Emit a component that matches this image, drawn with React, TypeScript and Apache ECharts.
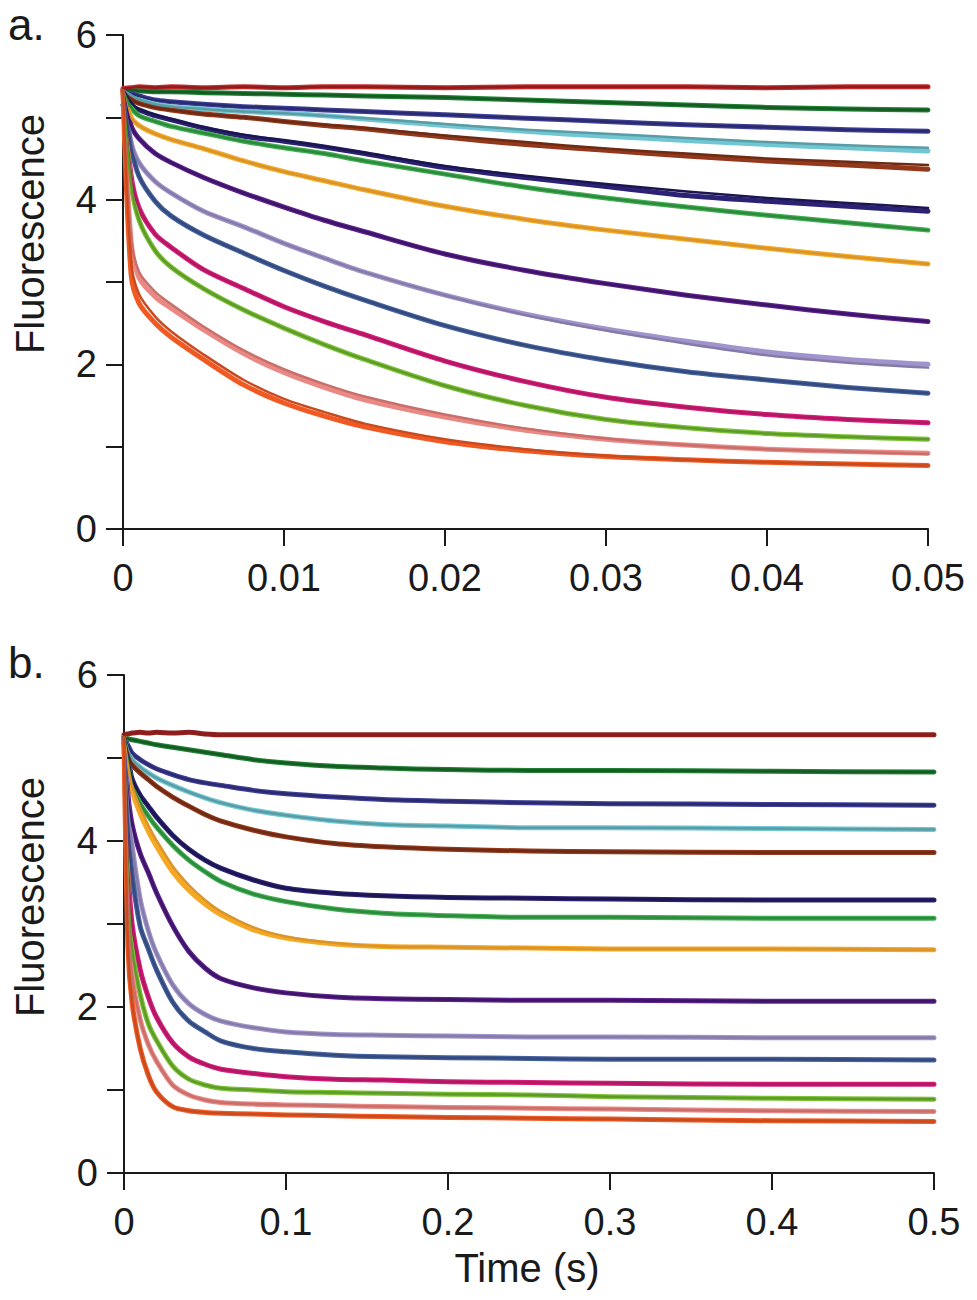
import React, { useEffect, useRef } from "react";
import * as echarts from "echarts";

// ---------- data: panel a (0 - 0.05 s) ----------
const TIME_A = [0, 0.0005, 0.001, 0.002, 0.003, 0.005, 0.0075, 0.01, 0.0125, 0.015, 0.02, 0.025, 0.03, 0.035, 0.04, 0.045, 0.05];

const A_RED = [5.35, 5.36, 5.37, 5.36, 5.37, 5.36, 5.37, 5.36, 5.37, 5.37, 5.36, 5.37, 5.37, 5.37, 5.36, 5.37, 5.37];
const A_GREEN = [5.33, 5.33, 5.32, 5.31, 5.31, 5.30, 5.29, 5.28, 5.27, 5.26, 5.24, 5.21, 5.18, 5.15, 5.12, 5.10, 5.09];
const A_INDIGO = [5.33, 5.29, 5.26, 5.21, 5.19, 5.16, 5.13, 5.11, 5.09, 5.07, 5.03, 4.99, 4.95, 4.91, 4.88, 4.85, 4.83];
const A_CYAN = [5.33, 5.27, 5.22, 5.16, 5.13, 5.10, 5.07, 5.05, 5.02, 4.98, 4.90, 4.83, 4.77, 4.72, 4.67, 4.63, 4.59];
const A_CYAN_FIT = [5.33, 5.27, 5.22, 5.16, 5.13, 5.10, 5.07, 5.05, 5.02, 4.99, 4.92, 4.85, 4.80, 4.75, 4.70, 4.66, 4.63];
const A_BROWN = [5.33, 5.22, 5.17, 5.12, 5.09, 5.04, 5.00, 4.95, 4.90, 4.86, 4.76, 4.67, 4.60, 4.53, 4.47, 4.42, 4.37];
const A_BROWN_FIT = [5.33, 5.22, 5.17, 5.12, 5.09, 5.04, 5.00, 4.95, 4.91, 4.87, 4.78, 4.70, 4.62, 4.56, 4.50, 4.46, 4.42];
const A_NAVY = [5.15, 5.12, 5.09, 5.02, 4.97, 4.87, 4.77, 4.71, 4.64, 4.56, 4.39, 4.27, 4.16, 4.05, 3.98, 3.92, 3.86];
const A_NAVY_FIT = [5.33, 5.18, 5.10, 5.03, 4.98, 4.88, 4.79, 4.72, 4.65, 4.57, 4.41, 4.29, 4.19, 4.10, 4.02, 3.96, 3.90];
const A_GREEN2 = [5.33, 5.12, 5.02, 4.95, 4.89, 4.81, 4.71, 4.63, 4.56, 4.47, 4.31, 4.15, 4.02, 3.91, 3.81, 3.72, 3.63];
const A_ORANGE = [5.33, 5.00, 4.90, 4.80, 4.73, 4.62, 4.47, 4.34, 4.23, 4.12, 3.92, 3.76, 3.63, 3.52, 3.41, 3.31, 3.22];
const A_PURPLE = [5.33, 4.90, 4.74, 4.56, 4.45, 4.27, 4.08, 3.91, 3.75, 3.61, 3.34, 3.14, 2.98, 2.84, 2.72, 2.61, 2.52];
const A_LAVENDER = [5.33, 4.70, 4.45, 4.22, 4.08, 3.86, 3.67, 3.47, 3.29, 3.12, 2.84, 2.61, 2.43, 2.28, 2.15, 2.06, 2.00];
const A_LAVENDER_FIT = [5.33, 4.70, 4.45, 4.22, 4.08, 3.86, 3.67, 3.47, 3.29, 3.12, 2.84, 2.60, 2.41, 2.25, 2.11, 2.02, 1.96];
const A_BLUE = [5.33, 4.65, 4.28, 3.98, 3.80, 3.57, 3.35, 3.14, 2.95, 2.78, 2.47, 2.23, 2.05, 1.91, 1.81, 1.72, 1.65];
const A_MAGENTA = [5.33, 4.30, 3.90, 3.58, 3.42, 3.15, 2.92, 2.70, 2.52, 2.36, 2.04, 1.79, 1.60, 1.48, 1.39, 1.33, 1.29];
const A_LIME = [5.33, 4.20, 3.75, 3.38, 3.18, 2.92, 2.66, 2.44, 2.24, 2.06, 1.74, 1.50, 1.33, 1.23, 1.16, 1.12, 1.09];
const A_PINK = [5.33, 3.50, 3.05, 2.82, 2.68, 2.42, 2.13, 1.90, 1.72, 1.57, 1.36, 1.20, 1.09, 1.02, 0.97, 0.94, 0.92];
const A_PINK_FIT = [5.33, 3.55, 3.12, 2.88, 2.73, 2.46, 2.17, 1.94, 1.76, 1.61, 1.39, 1.22, 1.10, 1.02, 0.97, 0.94, 0.91];
const A_ORED = [5.33, 3.10, 2.74, 2.50, 2.33, 2.06, 1.75, 1.53, 1.37, 1.24, 1.06, 0.95, 0.88, 0.84, 0.81, 0.79, 0.77];
const A_ORED_FIT = [5.33, 3.25, 2.85, 2.58, 2.40, 2.12, 1.81, 1.58, 1.42, 1.28, 1.09, 0.97, 0.89, 0.84, 0.81, 0.79, 0.77];

// ---------- data: panel b (0 - 0.5 s) ----------
const TIME_B = [0, 0.0025, 0.005, 0.01, 0.015, 0.02, 0.03, 0.04, 0.05, 0.06, 0.08, 0.1, 0.13, 0.16, 0.2, 0.25, 0.3, 0.4, 0.5];

const B_RED = [5.28, 5.29, 5.30, 5.31, 5.30, 5.31, 5.30, 5.31, 5.29, 5.28, 5.28, 5.28, 5.28, 5.28, 5.28, 5.28, 5.28, 5.28, 5.28];
const B_GREEN = [5.25, 5.23, 5.22, 5.20, 5.18, 5.16, 5.13, 5.10, 5.07, 5.04, 4.98, 4.94, 4.90, 4.88, 4.86, 4.85, 4.85, 4.84, 4.83];
const B_INDIGO = [5.25, 5.15, 5.06, 4.98, 4.92, 4.87, 4.80, 4.74, 4.70, 4.67, 4.61, 4.57, 4.53, 4.50, 4.48, 4.46, 4.45, 4.44, 4.43];
const B_CYAN = [5.25, 5.10, 4.98, 4.89, 4.82, 4.76, 4.67, 4.59, 4.52, 4.46, 4.37, 4.31, 4.24, 4.20, 4.18, 4.16, 4.16, 4.15, 4.14];
const B_BROWN = [5.25, 5.05, 4.92, 4.82, 4.74, 4.66, 4.53, 4.42, 4.32, 4.24, 4.13, 4.05, 3.97, 3.93, 3.90, 3.88, 3.87, 3.86, 3.86];
const B_NAVY = [5.25, 5.00, 4.75, 4.55, 4.42, 4.29, 4.07, 3.90, 3.77, 3.67, 3.53, 3.43, 3.37, 3.34, 3.32, 3.31, 3.30, 3.29, 3.29];
const B_GREEN2 = [5.25, 4.95, 4.68, 4.45, 4.30, 4.17, 3.95, 3.77, 3.63, 3.51, 3.36, 3.27, 3.18, 3.13, 3.10, 3.08, 3.08, 3.07, 3.07];
const B_ORANGE = [5.25, 4.86, 4.60, 4.33, 4.12, 3.94, 3.63, 3.41, 3.24, 3.11, 2.93, 2.83, 2.76, 2.73, 2.72, 2.71, 2.70, 2.70, 2.69];
const B_ORANGE_FIT = [5.25, 4.90, 4.66, 4.40, 4.19, 4.01, 3.70, 3.47, 3.29, 3.15, 2.96, 2.85, 2.77, 2.73, 2.72, 2.71, 2.70, 2.70, 2.69];
const B_PURPLE = [5.25, 4.55, 4.20, 3.85, 3.62, 3.38, 2.98, 2.67, 2.47, 2.34, 2.23, 2.17, 2.12, 2.10, 2.09, 2.08, 2.08, 2.07, 2.07];
const B_LAVENDER = [5.25, 4.40, 3.95, 3.30, 2.92, 2.65, 2.27, 2.04, 1.91, 1.83, 1.75, 1.70, 1.67, 1.66, 1.65, 1.64, 1.64, 1.63, 1.63];
const B_BLUE = [5.25, 4.20, 3.60, 2.97, 2.70, 2.45, 2.06, 1.83, 1.70, 1.59, 1.50, 1.46, 1.42, 1.40, 1.39, 1.38, 1.37, 1.37, 1.36];
const B_MAGENTA = [5.25, 3.70, 3.00, 2.45, 2.12, 1.88, 1.57, 1.40, 1.31, 1.25, 1.20, 1.16, 1.13, 1.12, 1.10, 1.09, 1.08, 1.07, 1.07];
const B_LIME = [5.25, 3.50, 2.70, 2.15, 1.80, 1.60, 1.29, 1.13, 1.06, 1.02, 1.00, 0.98, 0.97, 0.96, 0.95, 0.94, 0.92, 0.90, 0.89];
const B_PINK = [5.25, 3.20, 2.38, 1.85, 1.55, 1.35, 1.06, 0.94, 0.88, 0.85, 0.83, 0.82, 0.81, 0.80, 0.79, 0.78, 0.77, 0.75, 0.74];
const B_ORED = [5.25, 2.70, 2.05, 1.50, 1.18, 0.98, 0.80, 0.75, 0.73, 0.72, 0.71, 0.70, 0.69, 0.68, 0.67, 0.66, 0.65, 0.63, 0.62];

// ---------- tick labels ----------
const Y_TICKS = [0, 1, 2, 3, 4, 5, 6];
const X_TICKS_A = ["0", "0.01", "0.02", "0.03", "0.04", "0.05"];
const X_TICKS_B = ["0", "0.1", "0.2", "0.3", "0.4", "0.5"];

// ---------- styles ----------
const DATA_COLORS = ["#c62b2a", "#1f7f33", "#3f3f98", "#70c7d3", "#93381a", "#2b2275", "#40ae50", "#f6a823", "#5c2290", "#a194cc", "#45629f", "#d81b78", "#7bc234", "#ea8884", "#f05a22"];
const FIT_COLORS = ["#8e1c1c", "#155a22", "#2a2a70", "#5a9ca5", "#6e2a14", "#1b1650", "#2d8a3c", "#d9952b", "#3e1466", "#857aa8", "#34497d", "#b01864", "#5e9a2a", "#c86f6b", "#c84a1e"];
const B_DATA_COLORS = ["#8d2420", ...DATA_COLORS.slice(1)];

const A_OBS = [A_RED, A_GREEN, A_INDIGO, A_CYAN, A_BROWN, A_NAVY, A_GREEN2, A_ORANGE, A_PURPLE, A_LAVENDER, A_BLUE, A_MAGENTA, A_LIME, A_PINK, A_ORED];
const A_FIT = [A_RED, A_GREEN, A_INDIGO, A_CYAN_FIT, A_BROWN_FIT, A_NAVY_FIT, A_GREEN2, A_ORANGE, A_PURPLE, A_LAVENDER_FIT, A_BLUE, A_MAGENTA, A_LIME, A_PINK_FIT, A_ORED_FIT];
const B_OBS = [B_RED, B_GREEN, B_INDIGO, B_CYAN, B_BROWN, B_NAVY, B_GREEN2, B_ORANGE, B_PURPLE, B_LAVENDER, B_BLUE, B_MAGENTA, B_LIME, B_PINK, B_ORED];
const B_FIT = [B_RED, B_GREEN, B_INDIGO, B_CYAN, B_BROWN, B_NAVY, B_GREEN2, B_ORANGE_FIT, B_PURPLE, B_LAVENDER, B_BLUE, B_MAGENTA, B_LIME, B_PINK, B_ORED];

const FONT = "Liberation Sans, Arial, Helvetica, sans-serif";
const INK = "#1a1a1a";

function pairs(t: number[], v: number[]) {
  return t.map((x, i) => [x, v[i]]);
}

function lineSeries(idx: number, t: number[], v: number[], color: string, width: number, z: number) {
  return {
    type: "line",
    xAxisIndex: idx,
    yAxisIndex: idx,
    data: pairs(t, v),
    showSymbol: false,
    symbol: "none",
    smooth: 0.3,
    silent: true,
    z,
    lineStyle: { color, width, cap: "round", join: "round" },
  };
}

function yAxis(gridIndex: number) {
  return {
    type: "value",
    gridIndex,
    min: 0,
    max: 6,
    interval: 1,
    axisLine: { show: true, lineStyle: { color: INK, width: 2 } },
    axisTick: { show: true, length: 17, lineStyle: { color: INK, width: 2 } },
    splitLine: { show: false },
    axisLabel: {
      margin: 26,
      fontSize: 38,
      fontFamily: FONT,
      color: INK,
      formatter: (v: number) => (Y_TICKS.indexOf(v) >= 0 && v % 2 === 0 ? String(v) : ""),
    },
  };
}

function xAxis(gridIndex: number, max: number, interval: number, labels: string[]) {
  return {
    type: "value",
    gridIndex,
    min: 0,
    max,
    interval,
    axisLine: { show: true, onZero: false, lineStyle: { color: INK, width: 2 } },
    axisTick: { show: true, length: 17, lineStyle: { color: INK, width: 2 } },
    splitLine: { show: false },
    axisLabel: {
      margin: 30,
      fontSize: 38,
      fontFamily: FONT,
      color: INK,
      showMaxLabel: true,
      formatter: (v: number) => labels[Math.round(v / interval)] ?? "",
    },
  };
}

export default function App() {
  const ref = useRef<HTMLDivElement>(null);
  useEffect(() => {
    if (!ref.current) return;
    const chart = echarts.init(ref.current, null, { renderer: "svg" });
    const series: any[] = [];
    A_OBS.forEach((v, i) => series.push(lineSeries(0, TIME_A, v, DATA_COLORS[i], 5, 2)));
    A_FIT.forEach((v, i) => series.push(lineSeries(0, TIME_A, v, FIT_COLORS[i], 2.5, 3)));
    B_OBS.forEach((v, i) => series.push(lineSeries(1, TIME_B, v, B_DATA_COLORS[i], 5, 2)));
    B_FIT.forEach((v, i) => series.push(lineSeries(1, TIME_B, v, FIT_COLORS[i], 2.5, 3)));

    const textStyle = (text: string, size: number) => ({
      text,
      fontSize: size,
      fontFamily: FONT,
      fill: INK,
      align: "center",
      verticalAlign: "middle",
    });

    chart.setOption({
      animation: false,
      backgroundColor: "#ffffff",
      grid: [
        { left: 123, top: 35, width: 805, height: 494, containLabel: false },
        { left: 124, top: 675, width: 810, height: 498, containLabel: false },
      ],
      xAxis: [xAxis(0, 0.05, 0.01, X_TICKS_A), xAxis(1, 0.5, 0.1, X_TICKS_B)],
      yAxis: [yAxis(0), yAxis(1)],
      series,
      graphic: [
        { type: "text", left: 8, top: 2, style: { text: "a.", fontSize: 44, fontFamily: FONT, fill: INK } },
        { type: "text", left: 8, top: 640, style: { text: "b.", fontSize: 44, fontFamily: FONT, fill: INK } },
        { type: "text", x: 30, y: 234, rotation: Math.PI / 2, style: textStyle("Fluorescence", 40) },
        { type: "text", x: 30, y: 897, rotation: Math.PI / 2, style: textStyle("Fluorescence", 40) },
        { type: "text", x: 527, y: 1268, style: textStyle("Time (s)", 40) },
      ],
    });
    return () => chart.dispose();
  }, []);
  return (
    <div
      ref={ref}
      style={{ position: "absolute", left: 0, top: 0, width: 977, height: 1300, background: "#fff" }}
    />
  );
}
